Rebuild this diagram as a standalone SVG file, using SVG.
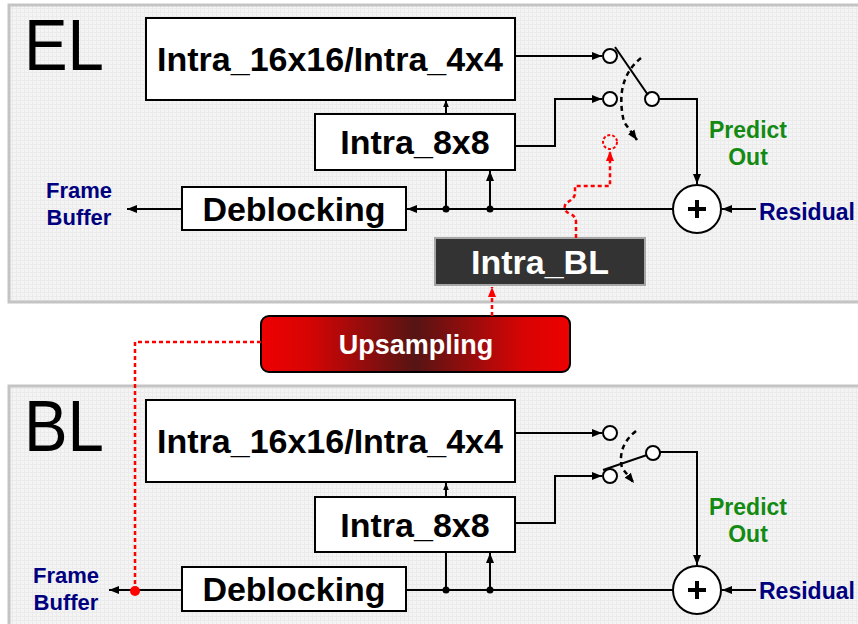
<svg xmlns="http://www.w3.org/2000/svg" width="858" height="624" viewBox="0 0 858 624">
<defs>
<pattern id="grid" width="4" height="4" patternUnits="userSpaceOnUse">
<rect width="4" height="4" fill="#f4f4f4"/>
<path d="M0 0.5H4M0.5 0V4" stroke="#ebebeb" stroke-width="1"/>
</pattern>
<linearGradient id="redg" x1="0" y1="0" x2="1" y2="0">
<stop offset="0" stop-color="#ee0000"/>
<stop offset="0.15" stop-color="#d80404"/>
<stop offset="0.5" stop-color="#561414"/>
<stop offset="0.85" stop-color="#d80404"/>
<stop offset="1" stop-color="#ee0000"/>
</linearGradient>
<marker id="ah" viewBox="0 0 10 10" refX="10" refY="5" markerWidth="10" markerHeight="10" markerUnits="userSpaceOnUse" orient="auto">
<path d="M0 1L10 5L0 9Z" fill="#000"/>
</marker>
<marker id="ahs" viewBox="0 0 10 10" refX="10" refY="5" markerWidth="7" markerHeight="7" markerUnits="userSpaceOnUse" orient="auto">
<path d="M0 1L10 5L0 9Z" fill="#000"/>
</marker>
<marker id="ahr" viewBox="0 0 10 10" refX="10" refY="5" markerWidth="10" markerHeight="10" markerUnits="userSpaceOnUse" orient="auto">
<path d="M0 1L10 5L0 9Z" fill="#f00"/>
</marker>
</defs>
<style>
.panel{fill:url(#grid);stroke:#c4c4c4;stroke-width:3}
.box{fill:#fff;stroke:#000;stroke-width:2}
.big{font-family:"Liberation Sans",Arial,sans-serif;font-size:72px;fill:#000}
.bt{font-family:"Liberation Sans",Arial,sans-serif;font-weight:bold;font-size:34px;fill:#000;text-anchor:middle}
.lbl{font-family:"Liberation Sans",Arial,sans-serif;font-weight:bold;font-size:22px;fill:#00007f}
.res{font-family:"Liberation Sans",Arial,sans-serif;font-weight:bold;font-size:23px;fill:#00007f}
.grn{font-family:"Liberation Sans",Arial,sans-serif;font-weight:bold;font-size:23px;fill:#138a13;text-anchor:middle}
.w{fill:none;stroke:#000;stroke-width:2}
.dash{fill:none;stroke:#000;stroke-width:2.5;stroke-dasharray:5 4}
.red{fill:none;stroke:#f00;stroke-width:2.5;stroke-dasharray:4 3}
.ct{fill:#fff;stroke:#000;stroke-width:2}
.dot{fill:#000}
</style>
<rect class="panel" x="9" y="5" width="856" height="297"/>
<rect class="panel" x="9" y="386" width="856" height="250"/>
<text class="big" x="24" y="70" textLength="80" lengthAdjust="spacingAndGlyphs">EL</text>
<text class="big" x="24" y="451" textLength="80" lengthAdjust="spacingAndGlyphs">BL</text>

<g id="el-intra16">
<rect class="box" x="146" y="18" width="369" height="82"/>
<text class="bt" x="330" y="71">Intra_16x16/Intra_4x4</text>
</g>
<g id="el-intra8">
<rect class="box" x="315" y="114" width="200" height="56"/>
<text class="bt" x="415" y="154">Intra_8x8</text>
</g>
<g id="el-deblock">
<rect class="box" x="182" y="187" width="224" height="43"/>
<text class="bt" x="294" y="221">Deblocking</text>
</g>
<g id="el-adder">
<circle cx="697" cy="209" r="24" fill="#fff" stroke="#000" stroke-width="2"/>
<path d="M688 209H706M697 200V218" stroke="#000" stroke-width="4"/>
</g>
<g id="el-switch">
<circle class="ct" cx="610" cy="56" r="7"/>
<circle class="ct" cx="610" cy="99" r="7"/>
<circle class="ct" cx="652" cy="99" r="7"/>
<circle cx="610" cy="142" r="7" fill="none" stroke="#f00" stroke-width="2" stroke-dasharray="3 2"/>
</g>
<g id="el-intrabl">
<rect x="435" y="238" width="210" height="47" fill="#333" stroke="#a6a6a6" stroke-width="2"/>
<text class="bt" x="540" y="274" style="fill:#fff">Intra_BL</text>
</g>
<g id="el-labels">
<text class="lbl" x="79" y="198" text-anchor="middle">Frame</text>
<text class="lbl" x="79" y="225" text-anchor="middle">Buffer</text>
<text class="grn" x="748" y="138">Predict</text>
<text class="grn" x="748" y="165">Out</text>
<text class="res" x="759" y="220">Residual</text>
</g>

<g id="upsampling">
<rect x="261" y="316" width="309" height="56" rx="8" fill="url(#redg)" stroke="#000" stroke-width="2"/>
<text class="bt" x="416" y="354" style="fill:#fff;font-size:27px">Upsampling</text>
</g>

<g id="bl-intra16">
<rect class="box" x="146" y="400" width="369" height="82"/>
<text class="bt" x="330" y="453">Intra_16x16/Intra_4x4</text>
</g>
<g id="bl-intra8">
<rect class="box" x="315" y="497" width="200" height="55"/>
<text class="bt" x="415" y="537">Intra_8x8</text>
</g>
<g id="bl-deblock">
<rect class="box" x="182" y="567" width="224" height="44"/>
<text class="bt" x="294" y="601">Deblocking</text>
</g>
<g id="bl-adder">
<circle cx="697" cy="590" r="24" fill="#fff" stroke="#000" stroke-width="2"/>
<path d="M688 590H706M697 581V599" stroke="#000" stroke-width="4"/>
</g>
<g id="bl-switch">
<circle class="ct" cx="610" cy="433" r="7"/>
<circle class="ct" cx="610" cy="476" r="7"/>
<circle class="ct" cx="653" cy="453" r="7"/>
</g>
<g id="bl-labels">
<text class="lbl" x="66" y="583" text-anchor="middle">Frame</text>
<text class="lbl" x="66" y="610" text-anchor="middle">Buffer</text>
<text class="grn" x="748" y="515">Predict</text>
<text class="grn" x="748" y="542">Out</text>
<text class="res" x="759" y="599">Residual</text>
</g>

<g id="connectors">
<!-- EL -->
<path class="w" d="M515 56H602" marker-end="url(#ah)"/>
<path class="w" d="M515 146H555V99H602" marker-end="url(#ah)"/>
<path class="w" d="M446 114V100" marker-end="url(#ahs)"/>
<path class="w" d="M615 47L648 95"/>
<path class="dash" d="M641 58Q614 80 624 122L637 140" marker-end="url(#ah)"/>
<path class="w" d="M659 99H697V184" marker-end="url(#ah)"/>
<path class="w" d="M756 209H722" marker-end="url(#ah)"/>
<path class="w" d="M673 209H407" marker-end="url(#ah)"/>
<path class="w" d="M446 209V170"/>
<path class="w" d="M490 209V171" marker-end="url(#ah)"/>
<circle class="dot" cx="446" cy="209" r="3.5"/>
<circle class="dot" cx="490" cy="209" r="3.5"/>
<path class="w" d="M182 209H127" marker-end="url(#ah)"/>
<path class="red" d="M576 238V222Q576 216 570 214Q562 210 566 203Q576 198 575 192V186H610V151" marker-end="url(#ahr)"/>
<path class="red" d="M492 316V287" marker-end="url(#ahr)"/>
<!-- BL -->
<path class="w" d="M515 433H602" marker-end="url(#ah)"/>
<path class="w" d="M515 523H555V476H602" marker-end="url(#ah)"/>
<path class="w" d="M446 497V483" marker-end="url(#ahs)"/>
<path class="w" d="M603 470L647 455"/>
<path class="dash" d="M636 431Q617 446 622 468L634 483" marker-end="url(#ah)"/>
<path class="w" d="M660 452H697V565" marker-end="url(#ah)"/>
<path class="w" d="M756 590H722" marker-end="url(#ah)"/>
<path class="w" d="M673 590H406"/>
<path class="w" d="M446 590V552"/>
<path class="w" d="M490 590V553" marker-end="url(#ah)"/>
<circle class="dot" cx="446" cy="590" r="3.5"/>
<circle class="dot" cx="490" cy="590" r="3.5"/>
<path class="w" d="M182 590H109" marker-end="url(#ah)"/>
<path class="red" d="M261 342H135V590"/>
<circle cx="135" cy="591" r="5" fill="#f00"/>
</g>
</svg>
